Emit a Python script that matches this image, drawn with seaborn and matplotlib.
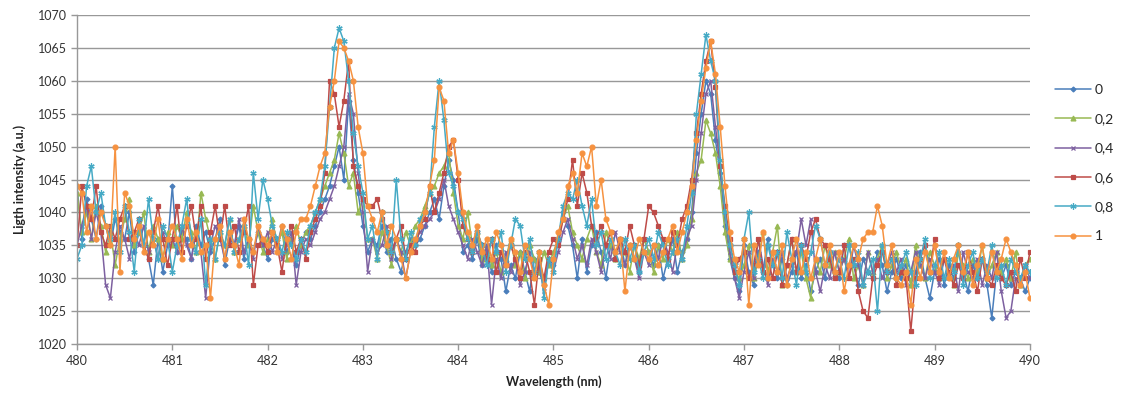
import matplotlib
matplotlib.use("Agg")
import matplotlib.pyplot as plt
import seaborn as sns
import numpy as np

# wavelength grid (nm), one reading every 0.05 nm
wavelength = np.round(np.linspace(480, 490, 201), 2)

series_labels = ['0', '0,2', '0,4', '0,6', '0,8', '1']
series_colors = ['#4A7EBB', '#98B954', '#7D60A0', '#BE4B48', '#46AAC5', '#F69240']
series_markers = ['D', '^', 'x', 's', (6, 2, 0), 'o']
marker_sizes = [2.5, 3.5, 3.5, 3.5, 4.5, 3.5]

# light intensity, 20 values per row (480.00 ... 490.00)
s00 = [1044, 1036, 1042, 1039, 1036, 1041, 1038, 1035, 1039, 1037, 1036, 1040, 1034, 1037, 1035, 1033, 1029, 1036, 1031, 1035,
       1044, 1034, 1037, 1036, 1033, 1038, 1035, 1037, 1034, 1036, 1039, 1032, 1036, 1035, 1038, 1033, 1036, 1034, 1037, 1035,
       1033, 1036, 1035, 1038, 1034, 1036, 1032, 1035, 1037, 1036, 1038, 1040, 1042, 1044, 1047, 1050, 1045, 1057, 1048, 1043,
       1038, 1034, 1036, 1035, 1038, 1034, 1036, 1033, 1031, 1034, 1036, 1035, 1036, 1038, 1040, 1042, 1039, 1044, 1048, 1045,
       1040, 1034, 1035, 1033, 1036, 1032, 1034, 1031, 1035, 1033, 1028, 1032, 1030, 1034, 1031, 1028, 1033, 1031, 1029, 1033,
       1032, 1036, 1040, 1038, 1035, 1030, 1036, 1031, 1035, 1037, 1034, 1030, 1035, 1033, 1036, 1032, 1035, 1033, 1031, 1036,
       1034, 1032, 1035, 1030, 1033, 1036, 1031, 1034, 1036, 1040, 1049, 1055, 1060, 1058, 1051, 1046, 1038, 1033, 1030, 1028,
       1035, 1031, 1029, 1034, 1031, 1036, 1032, 1030, 1033, 1029, 1031, 1034, 1030, 1032, 1028, 1031, 1033, 1030, 1034, 1031,
       1030, 1035, 1035, 1032, 1029, 1033, 1031, 1030, 1034, 1032, 1028, 1031, 1033, 1030, 1032, 1029, 1031, 1034, 1030, 1027,
       1031, 1033, 1029, 1032, 1030, 1034, 1031, 1028, 1032, 1030, 1033, 1029, 1024, 1031, 1030, 1032, 1029, 1031, 1030, 1028,
       1030]

s02 = [1043, 1037, 1040, 1036, 1041, 1038, 1034, 1037, 1032, 1036, 1039, 1042, 1035, 1037, 1040, 1034, 1038, 1036, 1033, 1037,
       1035, 1038, 1036, 1040, 1037, 1034, 1043, 1039, 1036, 1033, 1037, 1035, 1039, 1034, 1036, 1038, 1035, 1041, 1037, 1034,
       1036, 1039, 1035, 1037, 1033, 1036, 1038, 1035, 1037, 1038, 1040, 1042, 1044, 1046, 1048, 1052, 1049, 1044, 1046, 1040,
       1042, 1036, 1036, 1033, 1037, 1035, 1032, 1036, 1034, 1037, 1035, 1038, 1039, 1041, 1043, 1044, 1046, 1047, 1049, 1043,
       1038, 1036, 1040, 1035, 1037, 1033, 1035, 1032, 1034, 1031, 1033, 1036, 1032, 1034, 1030, 1035, 1033, 1031, 1034, 1032,
       1034, 1036, 1039, 1041, 1037, 1035, 1033, 1036, 1038, 1034, 1032, 1037, 1035, 1033, 1036, 1034, 1031, 1035, 1033, 1036,
       1034, 1031, 1035, 1033, 1036, 1034, 1037, 1033, 1035, 1039, 1046, 1048, 1054, 1052, 1049, 1044, 1037, 1033, 1031, 1030,
       1032, 1035, 1030, 1033, 1037, 1031, 1034, 1038, 1029, 1032, 1036, 1031, 1034, 1030, 1027, 1033, 1031, 1035, 1032, 1034,
       1031, 1033, 1036, 1030, 1032, 1029, 1034, 1031, 1033, 1035, 1030, 1032, 1034, 1031, 1033, 1029, 1035, 1032, 1030, 1034,
       1032, 1030, 1033, 1031, 1029, 1034, 1032, 1030, 1033, 1031, 1035, 1030, 1032, 1034, 1031, 1033, 1030, 1034, 1029, 1032,
       1033]

s04 = [1035, 1038, 1041, 1036, 1040, 1037, 1029, 1027, 1034, 1038, 1036, 1033, 1037, 1035, 1038, 1034, 1036, 1033, 1037, 1035,
       1036, 1034, 1038, 1035, 1033, 1037, 1034, 1027, 1035, 1038, 1036, 1033, 1037, 1035, 1039, 1034, 1036, 1033, 1038, 1035,
       1037, 1034, 1036, 1033, 1035, 1037, 1029, 1034, 1036, 1035, 1037, 1039, 1040, 1042, 1044, 1047, 1050, 1058, 1055, 1046,
       1040, 1031, 1036, 1034, 1035, 1038, 1033, 1036, 1034, 1030, 1034, 1036, 1037, 1038, 1039, 1040, 1042, 1045, 1041, 1039,
       1037, 1035, 1033, 1036, 1034, 1032, 1035, 1026, 1033, 1030, 1034, 1031, 1033, 1029, 1031, 1034, 1030, 1032, 1028, 1033,
       1031, 1034, 1037, 1039, 1036, 1033, 1035, 1032, 1036, 1034, 1031, 1035, 1033, 1037, 1034, 1032, 1035, 1033, 1030, 1034,
       1032, 1035, 1033, 1036, 1034, 1031, 1035, 1033, 1036, 1038, 1045, 1052, 1058, 1060, 1053, 1047, 1040, 1034, 1030, 1027,
       1031, 1034, 1030, 1036, 1032, 1029, 1033, 1031, 1034, 1030, 1032, 1034, 1039, 1035, 1039, 1031, 1028, 1032, 1030, 1034,
       1031, 1033, 1030, 1035, 1032, 1029, 1034, 1031, 1033, 1030, 1032, 1034, 1031, 1033, 1029, 1031, 1034, 1032, 1030, 1033,
       1031, 1029, 1033, 1030, 1032, 1028, 1034, 1031, 1030, 1033, 1029, 1032, 1030, 1034, 1028, 1024, 1025, 1030, 1029, 1032,
       1030]

s06 = [1035, 1044, 1041, 1039, 1044, 1037, 1035, 1038, 1036, 1039, 1041, 1036, 1037, 1039, 1035, 1033, 1037, 1041, 1036, 1032,
       1036, 1041, 1034, 1038, 1041, 1036, 1041, 1033, 1037, 1041, 1036, 1041, 1035, 1038, 1034, 1037, 1041, 1029, 1035, 1036,
       1034, 1037, 1035, 1031, 1036, 1038, 1034, 1036, 1033, 1037, 1039, 1041, 1046, 1060, 1058, 1053, 1057, 1063, 1047, 1044,
       1042, 1041, 1041, 1042, 1039, 1037, 1034, 1036, 1038, 1033, 1035, 1034, 1038, 1039, 1044, 1040, 1043, 1046, 1050, 1051,
       1045, 1038, 1036, 1034, 1037, 1035, 1033, 1036, 1031, 1034, 1032, 1035, 1033, 1030, 1034, 1031, 1026, 1033, 1030, 1034,
       1036, 1035, 1039, 1042, 1048, 1041, 1046, 1043, 1038, 1036, 1038, 1035, 1037, 1033, 1036, 1034, 1038, 1035, 1032, 1036,
       1041, 1040, 1038, 1036, 1033, 1037, 1035, 1039, 1041, 1045, 1052, 1058, 1063, 1066, 1059, 1047, 1041, 1036, 1031, 1033,
       1034, 1030, 1032, 1036, 1031, 1033, 1030, 1034, 1029, 1032, 1036, 1031, 1035, 1033, 1037, 1039, 1036, 1035, 1033, 1030,
       1031, 1035, 1030, 1033, 1028, 1025, 1024, 1030, 1032, 1034, 1031, 1033, 1029, 1031, 1030, 1022, 1030, 1033, 1035, 1031,
       1036, 1030, 1033, 1031, 1029, 1032, 1030, 1034, 1031, 1028, 1033, 1030, 1029, 1032, 1030, 1029, 1031, 1028, 1033, 1030,
       1034]

s08 = [1033, 1035, 1044, 1047, 1040, 1043, 1038, 1036, 1040, 1034, 1041, 1037, 1031, 1039, 1035, 1042, 1036, 1033, 1038, 1036,
       1031, 1035, 1038, 1042, 1036, 1034, 1039, 1029, 1036, 1033, 1037, 1035, 1039, 1034, 1036, 1038, 1032, 1046, 1039, 1045,
       1042, 1038, 1036, 1034, 1037, 1035, 1033, 1036, 1034, 1038, 1040, 1042, 1047, 1056, 1065, 1068, 1066, 1060, 1052, 1047,
       1043, 1036, 1038, 1033, 1040, 1037, 1034, 1045, 1036, 1033, 1037, 1035, 1039, 1040, 1043, 1053, 1060, 1054, 1046, 1044,
       1040, 1039, 1036, 1034, 1037, 1035, 1032, 1036, 1034, 1037, 1031, 1035, 1039, 1038, 1033, 1036, 1031, 1034, 1027, 1033,
       1031, 1036, 1041, 1043, 1042, 1045, 1041, 1038, 1042, 1035, 1037, 1033, 1036, 1034, 1032, 1036, 1033, 1035, 1031, 1034,
       1036, 1033, 1037, 1035, 1032, 1034, 1036, 1033, 1038, 1043, 1055, 1061, 1067, 1063, 1060, 1048, 1040, 1035, 1032, 1029,
       1036, 1040, 1031, 1033, 1030, 1035, 1032, 1034, 1030, 1037, 1033, 1029, 1035, 1031, 1034, 1038, 1036, 1032, 1034, 1031,
       1033, 1030, 1035, 1032, 1034, 1029, 1031, 1033, 1025, 1035, 1031, 1033, 1030, 1032, 1034, 1031, 1029, 1033, 1036, 1030,
       1032, 1034, 1030, 1033, 1031, 1035, 1029, 1032, 1034, 1030, 1033, 1031, 1035, 1030, 1032, 1029, 1033, 1031, 1030, 1032,
       1031]

s10 = [1044, 1043, 1037, 1041, 1036, 1040, 1038, 1035, 1050, 1031, 1043, 1041, 1036, 1038, 1034, 1037, 1035, 1039, 1033, 1036,
       1038, 1036, 1033, 1039, 1035, 1037, 1034, 1035, 1027, 1036, 1038, 1033, 1037, 1035, 1032, 1039, 1036, 1034, 1038, 1036,
       1035, 1037, 1034, 1038, 1036, 1033, 1037, 1039, 1039, 1041, 1044, 1047, 1049, 1056, 1060, 1066, 1065, 1063, 1060, 1053,
       1049, 1041, 1039, 1037, 1040, 1035, 1038, 1036, 1033, 1030, 1034, 1036, 1038, 1040, 1044, 1048, 1059, 1057, 1049, 1051,
       1046, 1040, 1037, 1035, 1038, 1034, 1036, 1033, 1037, 1035, 1032, 1036, 1034, 1031, 1035, 1033, 1030, 1034, 1029, 1026,
       1033, 1037, 1039, 1044, 1046, 1043, 1049, 1047, 1050, 1041, 1045, 1039, 1037, 1034, 1036, 1028, 1035, 1033, 1036, 1034,
       1033, 1035, 1032, 1034, 1036, 1038, 1034, 1037, 1040, 1044, 1051, 1057, 1062, 1066, 1061, 1053, 1044, 1037, 1033, 1031,
       1036, 1026, 1035, 1032, 1037, 1030, 1034, 1031, 1035, 1029, 1033, 1036, 1031, 1034, 1030, 1033, 1036, 1032, 1035, 1031,
       1034, 1028, 1032, 1035, 1033, 1036, 1037, 1037, 1041, 1038, 1032, 1035, 1030, 1029, 1031, 1026, 1033, 1030, 1034, 1031,
       1035, 1031, 1034, 1030, 1033, 1035, 1031, 1034, 1029, 1032, 1035, 1030, 1034, 1031, 1033, 1036, 1034, 1032, 1029, 1031,
       1027]

series_values = [s00, s02, s04, s06, s08, s10]
for v in series_values:
    assert len(v) == len(wavelength), len(v)

sns.set_style('white')
plt.rcParams['font.family'] = ['Lato', 'DejaVu Sans']

fig = plt.figure(figsize=(11.33, 4.03), dpi=100)
ax = fig.add_axes([0.068, 0.146, 0.841, 0.817])

for vals, lab, col, mk, ms in zip(series_values, series_labels, series_colors, series_markers, marker_sizes):
    sns.lineplot(x=wavelength, y=vals, ax=ax, color=col, marker=mk, markersize=ms,
                 markeredgecolor=col, markeredgewidth=0.9, linewidth=1.1, label=lab,
                 estimator=None, sort=False)

ax.set_xlim(480, 490)
ax.set_ylim(1020, 1070)
ax.set_xticks(range(480, 491))
ax.set_yticks(range(1020, 1071, 5))
ax.yaxis.grid(True, color='#989898', linewidth=1)
ax.xaxis.grid(False)
for side in ['top', 'right']:
    ax.spines[side].set_visible(False)
for side in ['left', 'bottom']:
    ax.spines[side].set_color('#989898')
    ax.spines[side].set_linewidth(1)
ax.tick_params(axis='both', which='both', direction='out', length=4, width=1,
               color='#989898', labelsize=9, labelcolor='#333333', left=True, bottom=True)
ax.set_xlabel('Wavelength (nm)', fontsize=9, fontweight='bold', color='#222222', labelpad=6)
ax.set_ylabel('Ligth intensity (a.u.)', fontsize=9, fontweight='bold', color='#222222', labelpad=8)

ax.legend(loc='center left', bbox_to_anchor=(1.02, 0.55), frameon=False, fontsize=10,
          handlelength=2.6, labelspacing=1.25, handletextpad=0.3, borderaxespad=0)

fig.savefig('out.png', dpi=100)
